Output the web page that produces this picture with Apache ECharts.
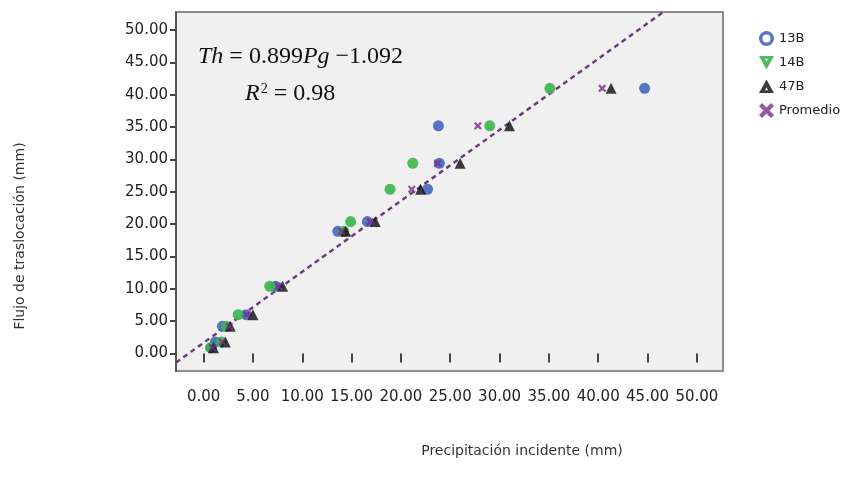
<!DOCTYPE html>
<html><head><meta charset="utf-8">
<script src="https://cdn.jsdelivr.net/npm/echarts@6/dist/echarts.min.js"></script>
<style>html,body{margin:0;padding:0;background:#fff}#c{width:852px;height:489px}</style>
</head><body><div id="c"></div>
<script>
// Data (Pg = precipitación incidente, Th = flujo de traslocación)
const s13B = [[44.7,41.0],[23.8,35.2],[23.9,29.4],[22.7,25.4],[16.6,20.4],[13.6,18.9],[7.3,10.4],[4.3,6.0],[1.9,4.2],[1.2,1.8],[0.8,0.9]];
const s14B = [[35.1,41.0],[29.0,35.2],[21.2,29.4],[18.9,25.4],[14.9,20.4],[14.2,18.9],[6.7,10.4],[3.5,6.0],[2.3,4.2],[1.8,1.8],[0.7,0.9]];
const s47B = [[41.3,41.0],[31.0,35.2],[26.0,29.4],[22.0,25.4],[17.4,20.4],[14.4,18.9],[8.0,10.4],[5.0,6.0],[2.7,4.2],[2.2,1.8],[1.0,0.9]];
const sProm = [[40.4,41.0],[27.8,35.2],[23.7,29.4],[21.1,25.4],[16.9,20.4],[14.0,18.9],[7.6,10.4],[4.4,6.0],[2.6,4.2],[1.9,1.8],[0.9,0.9]];
const fitLine = [[-2.8,-1.40],[46.6,52.8]];
const tickValues = [0,5,10,15,20,25,30,35,40,45,50];
const seriesNames = ['13B','14B','47B','Promedio'];
const colors = ['#4666be','#3bb54a','#0d0d0d','#7a2a8c'];

const xPath = 'path://M2,0 L5,3 L8,0 L10,2 L7,5 L10,8 L8,10 L5,7 L2,10 L0,8 L3,5 L0,2 Z';
const ringPath = 'path://M0,10 A10,10 0 1,1 20,10 A10,10 0 1,1 0,10 Z M4.6,10 A5.4,5.4 0 1,0 15.4,10 A5.4,5.4 0 1,0 4.6,10 Z';
const triDownHole = 'path://M0,0 L10,0 L5,9 Z M4,1.9 L5,3.7 L6,1.9 Z';
const triUpHole = 'path://M5,0 L10,9 L0,9 Z M5,5.3 L4,7.1 L6,7.1 Z';

const chart = echarts.init(document.getElementById('c'), null, {renderer:'canvas'});
const lblFont = {fontFamily:'DejaVu Sans', fontSize:15, color:'#222'};
chart.setOption({
  animation:false,
  backgroundColor:'#fff',
  grid:{left:176,top:12,right:129,bottom:118,show:true,backgroundColor:'#f0f0f0',borderColor:'#8c8c8c',borderWidth:2},
  xAxis:{type:'value',min:-2.8,max:52.65,
    splitLine:{show:false},
    axisLine:{show:false},
    axisTick:{show:true,customValues:tickValues,length:9,lineStyle:{color:'#444',width:2}},
    axisLabel:Object.assign({customValues:tickValues,margin:19,formatter:v=>v.toFixed(2)},lblFont)},
  yAxis:{type:'value',min:-2.7,max:52.8,
    splitLine:{show:false},
    axisLine:{show:true,onZero:false,lineStyle:{color:'#555',width:2}},
    axisTick:{show:true,customValues:tickValues,length:6,lineStyle:{color:'#444',width:2}},
    axisLabel:Object.assign({customValues:tickValues,margin:8,formatter:v=>v.toFixed(2)},lblFont)},
  legend:{orient:'vertical',left:754,top:26,itemWidth:15,itemHeight:15,itemGap:10,
    textStyle:{fontFamily:'DejaVu Sans',fontSize:13,color:'#222'},
    data:[
      {name:'13B',icon:ringPath,itemStyle:{color:colors[0]}},
      {name:'14B',icon:triDownHole,itemStyle:{color:colors[1]}},
      {name:'47B',icon:triUpHole,itemStyle:{color:colors[2]}},
      {name:'Promedio',icon:xPath,itemStyle:{color:colors[3]}}
    ]},
  series:[
    {name:'fit',type:'line',data:fitLine,symbol:'none',silent:true,z:1,
      lineStyle:{color:'#6b3d7d',width:2.5,type:[5,4]}},
    {name:seriesNames[0],type:'scatter',data:s13B,symbol:'circle',symbolSize:11,itemStyle:{color:colors[0],opacity:0.9},z:2},
    {name:seriesNames[1],type:'scatter',data:s14B,symbol:'circle',symbolSize:11,itemStyle:{color:colors[1],opacity:0.9},z:3},
    {name:seriesNames[2],type:'scatter',data:s47B,symbol:'triangle',symbolSize:11,itemStyle:{color:colors[2]},z:4},
    {name:seriesNames[3],type:'scatter',data:sProm,symbol:xPath,symbolSize:8,itemStyle:{color:colors[3]},z:5}
  ],
  graphic:[
    {type:'text',left:198,top:45,style:{
      text:'{i|Th} = 0.899{i|Pg} −1.092',
      font:'24px "Liberation Serif"',fill:'#111',
      rich:{i:{fontFamily:'Liberation Serif',fontStyle:'italic',fontSize:24,fill:'#111'}}}},
    {type:'text',left:245,top:82,style:{
      text:'{i|R}{s|2} = 0.98',
      font:'24px "Liberation Serif"',fill:'#111',
      rich:{i:{fontFamily:'Liberation Serif',fontStyle:'italic',fontSize:24},s:{fontFamily:'Liberation Serif',fontSize:14,verticalAlign:'top',padding:[0,0,10,1]}}}},
    {type:'text',x:522,y:451,style:{text:'Precipitación incidente (mm)',font:'14px "DejaVu Sans"',fill:'#333',align:'center',verticalAlign:'middle'}},
    {type:'text',x:20,y:236,rotation:Math.PI/2,style:{text:'Flujo de traslocación (mm)',font:'14px "DejaVu Sans"',fill:'#333',align:'center',verticalAlign:'middle'}}
  ]
});
</script></body></html>
